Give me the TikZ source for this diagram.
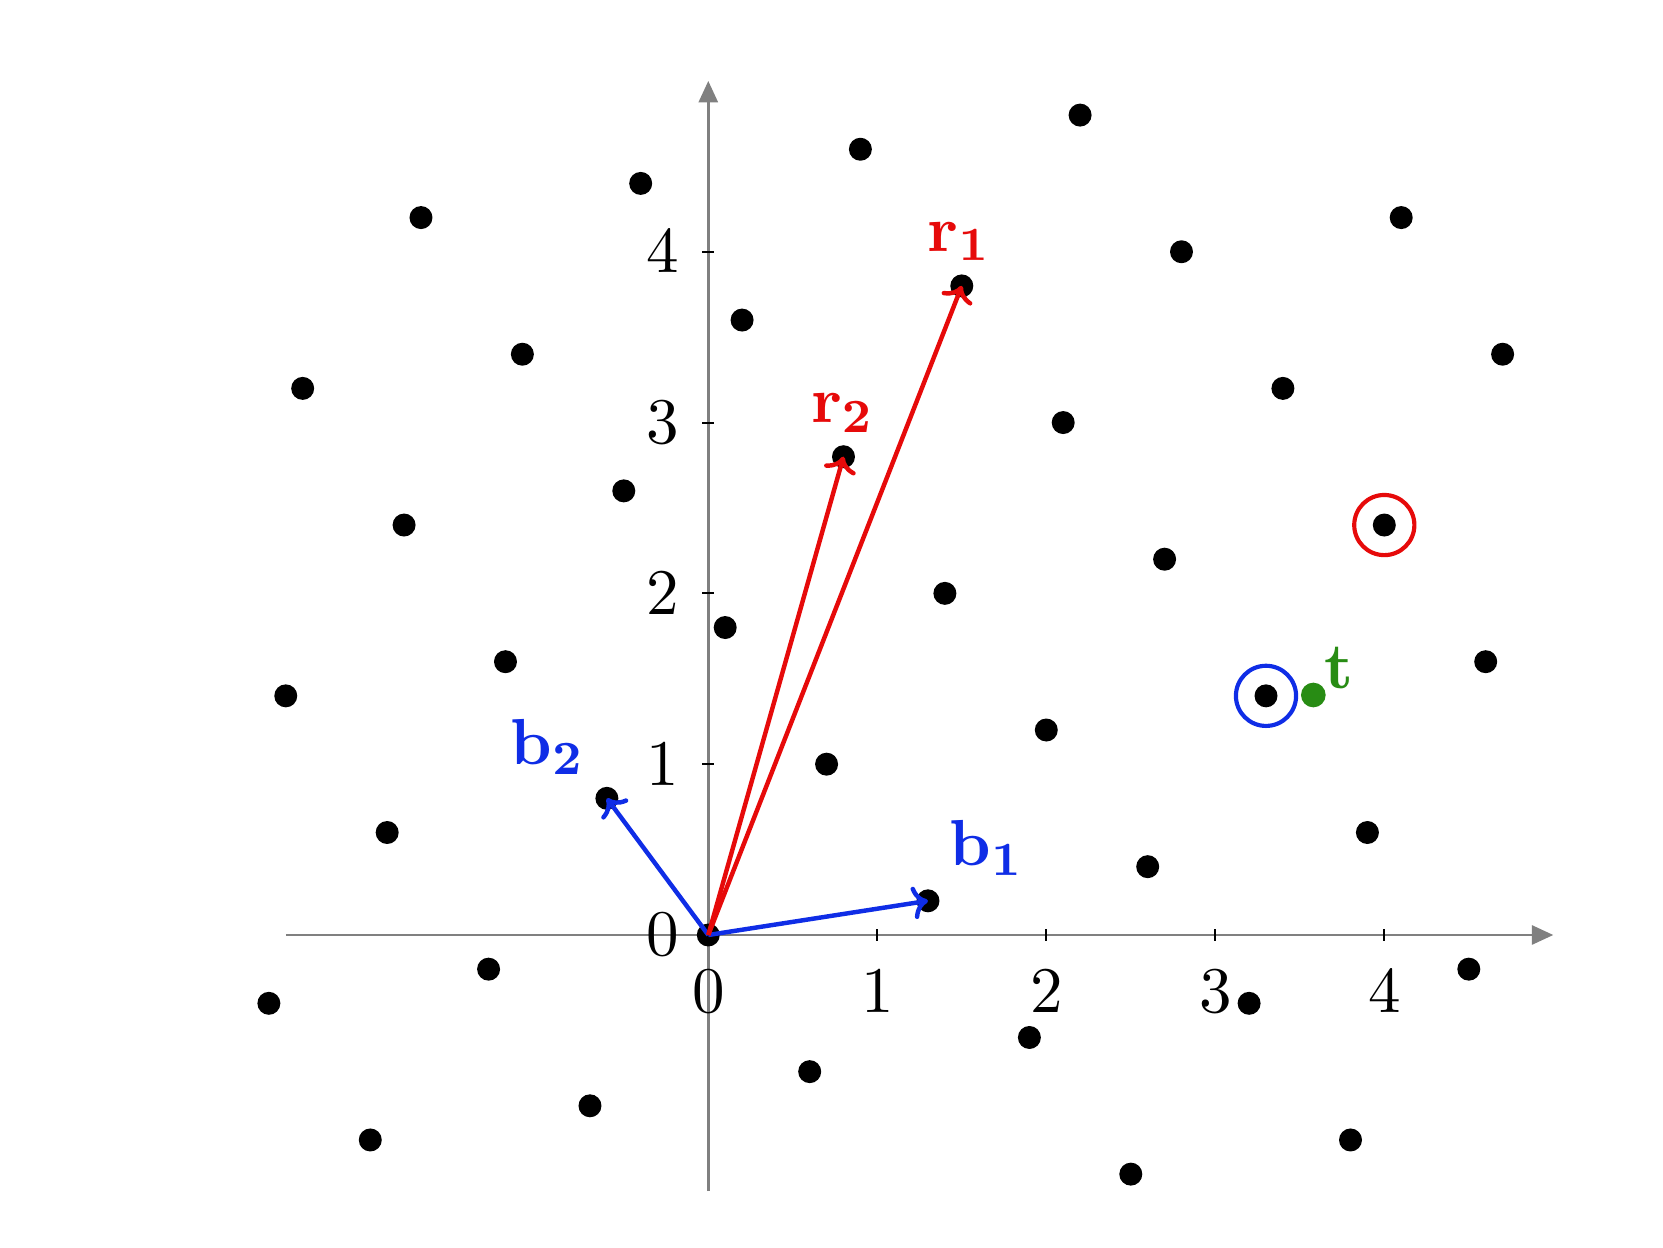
\documentclass[tikz,border=0pt]{standalone}
\usetikzlibrary{arrows.meta}
\definecolor{vred}{RGB}{230,10,10}
\definecolor{vblue}{RGB}{15,45,230}
\definecolor{vgreen}{RGB}{40,140,20}
\definecolor{axgray}{RGB}{128,128,128}
\begin{document}
\begin{tikzpicture}[x=1cm,y=1.0107cm,font=\fontsize{11}{13}\selectfont,
  axisline/.style={axgray,line width=0.45pt,-{Triangle[length=3.6pt,width=3.2pt]}},
  tickmark/.style={black,line width=0.35pt},
  dot/.style={fill=black},
  vec/.style={line width=0.75pt,-{To[length=2.6pt,width=5.5pt]}},
  ring/.style={line width=0.7pt},
  lbl/.style={inner sep=0pt,anchor=center}]
\useasboundingbox (-4.191,-1.832) rectangle (5.649,5.474);
% axes
\coordinate (xs) at (-2.5,0); \coordinate (xe) at (5,0);
\coordinate (ys) at (0,-1.5); \coordinate (ye) at (0,5);
\draw[axisline] (xs) -- (xe);
\draw[axisline] (ys) -- (ye);
\foreach \i in {1,...,4}{
  \draw[tickmark] (\i,-0.035) -- (\i,0.035);
  \draw[tickmark] (-0.035,\i) -- (0.035,\i);
}
\foreach \i in {0,...,4}{
  \node[lbl] (xl\i) at (\i,-0.332) {$\i$};
  \node[inner sep=0pt,anchor=east] (yl\i) at (-0.167,\i) {$\i$};
}
% lattice points
\foreach \a in {-3,...,6}{
  \foreach \b in {-2,...,5}{
    \pgfmathsetmacro\px{1.3*\a-0.6*\b}
    \pgfmathsetmacro\py{0.2*\a+0.8*\b}
    \pgfmathtruncatemacro\inside{((\px>-2.65)&&(\px<4.75)&&(\py>-1.45)&&(\py<4.85))?1:0}
    \ifnum\inside=1
      \coordinate (p\a\b) at (\px,\py);
      \fill[dot] (p\a\b) circle (0.068cm);
    \fi
  }
}
% named points
\coordinate (O) at (0,0);
\coordinate (B1) at (1.3,0.2);
\coordinate (B2) at (-0.6,0.8);
\coordinate (R1) at (1.5,3.8);
\coordinate (R2) at (0.8,2.8);
\coordinate (V) at (3.3,1.4);
\coordinate (W) at (4.0,2.4);
\coordinate (T) at (3.58,1.405);
% circles and target
\draw[ring,vblue] (V) circle (0.178cm);
\draw[ring,vred] (W) circle (0.178cm);
\fill[vgreen] (T) circle (0.073cm);
\node[lbl,text=vgreen] (tl) at (3.73,1.566) {$\mathbf{t}$};
% vectors
\draw[vec,vblue] (O) -- (B1);
\draw[vec,vblue] (O) -- (B2);
\draw[vec,vred] (O) -- (R1);
\draw[vec,vred] (O) -- (R2);
\node[lbl,text=vblue] (b1l) at (1.647,0.508) {$\mathbf{b_1}$};
\node[lbl,text=vblue] (b2l) at (-0.951,1.102) {$\mathbf{b_2}$};
\node[lbl,text=vred] (r1l) at (1.485,4.059) {$\mathbf{r_1}$};
\node[lbl,text=vred] (r2l) at (0.794,3.054) {$\mathbf{r_2}$};
\end{tikzpicture}
\end{document}
